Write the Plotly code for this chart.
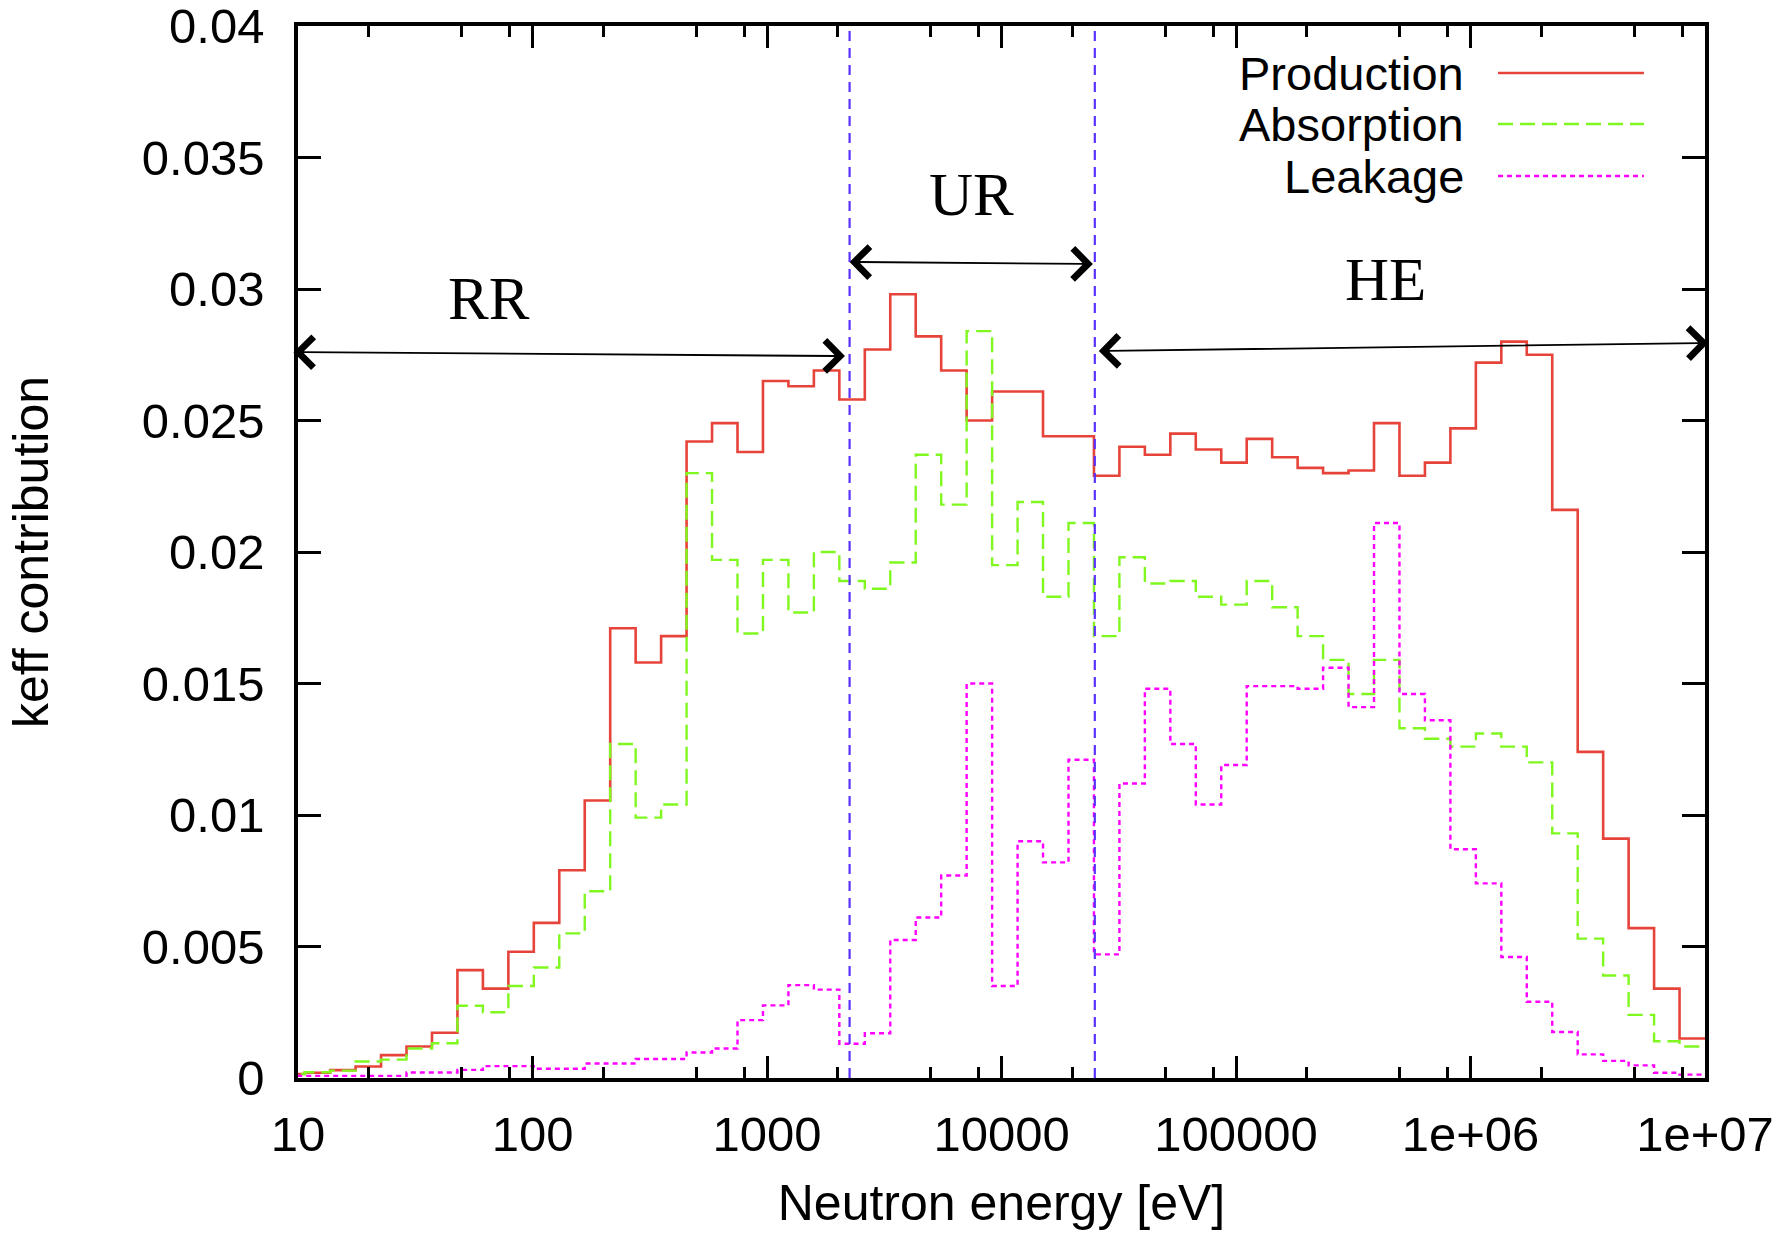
import math
import plotly.graph_objects as go

# ---------------- data ----------------
# group boundaries (eV), 0.25-lethargy structure, ascending
edges_ev = [8.315, 10.677, 13.710, 17.603, 22.603, 29.023, 37.267, 47.851, 61.442, 78.893,
            101.30, 130.07, 167.02, 214.45, 275.36, 353.58, 454.00, 582.95, 748.52, 961.12,
            1234.1, 1584.6, 2034.7, 2612.6, 3354.6, 4307.4, 5530.8, 7101.7, 9118.8, 11709,
            15034, 19305, 24788, 31828, 40868, 52475, 67379, 86517, 111090, 142640,
            183160, 235180, 301970, 387740, 497870, 639280, 820850, 1054000, 1353400, 1737700,
            2231300, 2865000, 3678800, 4723700, 6065300, 7788000, 10000000]

production = [0.00015, 0.00020, 0.00030, 0.00044, 0.00087, 0.00120, 0.00172, 0.00410, 0.00340, 0.00480,
              0.00590, 0.00790, 0.01055, 0.01710, 0.01580, 0.01680, 0.02420, 0.02490, 0.02380, 0.02650,
              0.02630, 0.02690, 0.02580, 0.02770, 0.02980, 0.02820, 0.02690, 0.02500, 0.02610, 0.02610,
              0.02440, 0.02440, 0.02290, 0.02400, 0.02370, 0.02450, 0.02390, 0.02340, 0.02430, 0.02360,
              0.02320, 0.02300, 0.02310, 0.02490, 0.02290, 0.02340, 0.02470, 0.02720, 0.02800, 0.02750,
              0.02160, 0.01240, 0.00910, 0.00570, 0.00340, 0.00150]

absorption = [0.00015, 0.00022, 0.00028, 0.00063, 0.00070, 0.00112, 0.00132, 0.00275, 0.00250, 0.00350,
              0.00420, 0.00550, 0.00710, 0.01270, 0.00990, 0.01040, 0.02300, 0.01970, 0.01690, 0.01970,
              0.01770, 0.02000, 0.01890, 0.01860, 0.01960, 0.02370, 0.02180, 0.02840, 0.01950, 0.02190,
              0.01830, 0.02110, 0.01680, 0.01980, 0.01880, 0.01890, 0.01830, 0.01800, 0.01890, 0.01790,
              0.01680, 0.01590, 0.01460, 0.01590, 0.01330, 0.01290, 0.01260, 0.01310, 0.01260, 0.01200,
              0.00930, 0.00530, 0.00390, 0.00240, 0.00140, 0.00120]

leakage = [0.00008, 0.00008, 0.00008, 0.00008, 0.00008, 0.00021, 0.00021, 0.00031, 0.00045, 0.00045,
           0.00035, 0.00035, 0.00055, 0.00055, 0.00072, 0.00072, 0.00097, 0.00112, 0.00220, 0.00276,
           0.00353, 0.00336, 0.00130, 0.00170, 0.00525, 0.00610, 0.00770, 0.01500, 0.00350, 0.00900,
           0.00820, 0.01210, 0.00470, 0.01120, 0.01480, 0.01270, 0.01040, 0.01190, 0.01490, 0.01490,
           0.01480, 0.01560, 0.01410, 0.02110, 0.01460, 0.01360, 0.00870, 0.00740, 0.00460, 0.00290,
           0.00175, 0.00090, 0.00065, 0.00048, 0.00020, 0.00013]

series_names = ["Production", "Absorption", "Leakage"]

# region boundaries (eV)
boundaries_ev = [2250, 25000]

# region annotations: label, left end (eV), right end (eV), y left, y right, label x (eV), label y
region_labels = ["RR", "UR", "HE"]
region_left_ev = [9.42, 2250, 26000]
region_right_ev = [2150, 24900, 10500000]
region_y_left = [0.02760, 0.03103, 0.02764]
region_y_right = [0.02745, 0.03095, 0.02795]
region_label_ev = [65.5, 7450, 433500]
region_label_y = [0.02965, 0.03358, 0.03035]

x_tick_vals = [10, 100, 1000, 10000, 100000, 1000000, 10000000]
x_tick_text = ["10", "100", "1000", "10000", "100000", "1e+06", "1e+07"]
x_minor_mult = [2, 5, 8]
y_tick_vals = [0, 0.005, 0.01, 0.015, 0.02, 0.025, 0.03, 0.035, 0.04]
y_tick_text = ["0", "0.005", "0.01", "0.015", "0.02", "0.025", "0.03", "0.035", "0.04"]

# ---------------- styling ----------------
RED = "#e6443a"
GREEN = "#80f820"
MAGENTA = "#ff00ff"
BLUE = "#5a32ff"
SANS = "Liberation Sans, Arial, sans-serif"
SERIF = "Liberation Serif, Times New Roman, serif"
FS_TICK = 49
FS_TEXT = 50
FS_LEG = 47

colors = [RED, GREEN, MAGENTA]
dashes = ["solid", "15px,7px", "5px,4px"]
widths = [2.6, 2.4, 2.4]
values = [production, absorption, leakage]

fig = go.Figure()
for name, vals, col, dsh, w in zip(series_names, values, colors, dashes, widths):
    fig.add_trace(go.Scatter(
        x=edges_ev, y=list(vals) + [vals[-1]], mode="lines", name=name,
        line=dict(shape="hv", color=col, dash=dsh, width=w),
        showlegend=False, hoverinfo="skip"))

for b in boundaries_ev:
    fig.add_trace(go.Scatter(
        x=[b, b], y=[y_tick_vals[0], y_tick_vals[-1]], mode="lines",
        line=dict(color=BLUE, dash="10px,7px", width=2.2),
        showlegend=False, hoverinfo="skip"))

annotations = []
shapes = []
# double-headed region arrows
for lab, xl, xr, yl, yr, lx, ly in zip(region_labels, region_left_ev, region_right_ev,
                                        region_y_left, region_y_right,
                                        region_label_ev, region_label_y):
    # put the head at the end that is inside the axis range
    if xl >= x_tick_vals[0]:
        hx, hy, tx, ty = xl, yl, xr, yr
    else:
        hx, hy, tx, ty = xr, yr, xl, yl
    annotations.append(dict(
        x=math.log10(hx), y=hy, ax=math.log10(tx), ay=ty,
        xref="x", yref="y", axref="x", ayref="y", text="",
        showarrow=True, arrowside="end+start", arrowhead=4, startarrowhead=4,
        arrowsize=3.3, startarrowsize=3.3, arrowwidth=1.8, arrowcolor="black",
        standoff=0, startstandoff=0))
    annotations.append(dict(
        x=math.log10(lx), y=ly, xref="x", yref="y", text=lab, showarrow=False,
        font=dict(family=SERIF, size=61, color="black")))

# custom legend (text right-aligned, sample to the right)
leg_y = [0.9553, 0.9068, 0.8574]
for name, col, dsh, w, yy in zip(series_names, colors, dashes, widths, leg_y):
    annotations.append(dict(
        x=0.8301, y=yy, xref="paper", yref="paper", xanchor="right", yanchor="middle",
        text=name, showarrow=False, font=dict(family=SANS, size=FS_LEG, color="black")))
    shapes.append(dict(
        type="line", xref="paper", yref="paper", x0=0.8529, x1=0.9566, y0=yy, y1=yy,
        line=dict(color=col, dash=dsh, width=w)))

fig.update_layout(
    width=1785, height=1233,
    margin=dict(l=298, r=80, t=26, b=155, autoexpand=False),
    paper_bgcolor="white", plot_bgcolor="white",
    font=dict(family=SANS, size=FS_TICK, color="black"),
    annotations=annotations, shapes=shapes,
    xaxis=dict(
        type="log", range=[1, 7], automargin=False,
        tickvals=x_tick_vals, ticktext=x_tick_text,
        ticks="inside", ticklen=22, tickwidth=3, tickcolor="black",
        minor=dict(tickmode="array",
                   tickvals=[m * 10 ** d for d in range(1, 7) for m in x_minor_mult],
                   ticks="inside", ticklen=11, tickwidth=3, tickcolor="black"),
        showline=True, linewidth=3.5, linecolor="black", mirror="ticks",
        showgrid=False, zeroline=False, ticklabeloverflow="allow",
        tickfont=dict(family=SANS, size=FS_TICK), ticklabelstandoff=10,
        title=dict(text="Neutron energy [eV]", font=dict(family=SANS, size=FS_TEXT), standoff=26),
    ),
    yaxis=dict(
        range=[0, 0.04], automargin=False,
        tickvals=y_tick_vals, ticktext=y_tick_text,
        ticks="inside", ticklen=23, tickwidth=3, tickcolor="black",
        showline=True, linewidth=3.5, linecolor="black", mirror="ticks",
        showgrid=False, zeroline=False, ticklabeloverflow="allow",
        tickfont=dict(family=SANS, size=FS_TICK), ticklabelstandoff=20,
        title=dict(text="keff contribution", font=dict(family=SANS, size=FS_TEXT), standoff=78),
    ),
)

fig.write_html("out.html", config={"displayModeBar": False},
               post_script="document.body.style.margin='0px';")
